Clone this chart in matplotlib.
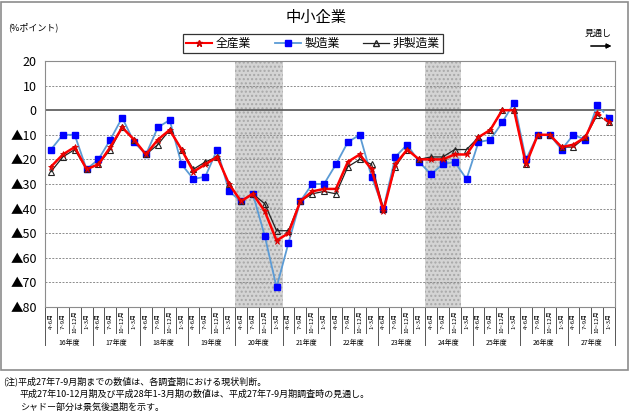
import matplotlib.pyplot as plt
import matplotlib.transforms as mtransforms
from matplotlib.lines import Line2D
from matplotlib.patches import Rectangle
import numpy as np

plt.rcParams['font.family'] = ['Noto Sans CJK JP', 'DejaVu Sans']

years = [f'{y}年度' for y in range(16, 28)]
quarters = ['4~6月', '7~9月', '10~12月', '1~3月']

# 全産業
all_ind = [-23, -18, -15, -24, -22, -15, -7, -12, -18, -12, -8, -16,
           -25, -22, -19, -30, -37, -34, -41, -53, -50, -37, -33, -32,
           -32, -21, -18, -24, -41, -22, -16, -20, -20, -20, -18, -18,
           -11, -8, 0, 0, -22, -10, -10, -15, -14, -11, -1, -5]
# 製造業
mfg = [-16, -10, -10, -24, -20, -12, -3, -13, -18, -7, -4, -22,
       -28, -27, -16, -33, -37, -34, -51, -72, -54, -37, -30, -30,
       -22, -13, -10, -27, -40, -19, -14, -21, -26, -22, -21, -28,
       -13, -12, -5, 3, -20, -10, -10, -16, -10, -12, 2, -3]
# 非製造業
nonmfg = [-25, -19, -16, -24, -22, -16, -7, -12, -18, -14, -8, -16,
          -24, -21, -19, -30, -37, -34, -38, -49, -49, -37, -34, -33,
          -34, -23, -20, -22, -40, -23, -16, -20, -19, -19, -16, -16,
          -11, -8, 0, 0, -22, -10, -10, -15, -15, -11, -2, -5]

# recession shading (quarter index start, end)
shades = [(16, 20), (32, 35)]

yticks = [20, 10, 0, -10, -20, -30, -40, -50, -60, -70, -80]
ylabels = ['20', '10', '0'] + [f'▲{abs(v)}' for v in yticks[3:]]

fig = plt.figure(figsize=(6.3, 4.13), dpi=100)
ax = fig.add_axes([45 / 630, 1 - 307 / 413, 570 / 630, 246 / 413])

x = np.arange(len(all_ind))
n = len(x)

for s, e in shades:
    ax.axvspan(s - 0.5, e - 0.5, facecolor='#d4d4d4', edgecolor='#a8a8a8',
               hatch='....', linewidth=0, zorder=0)

for v in yticks:
    if v == 0:
        ax.axhline(0, color='#555555', lw=1.2, zorder=1)
    else:
        ax.axhline(v, color='#8c8c8c', lw=0.7, ls=(0, (2, 1.5)), zorder=1)


def draw(vals, color, lw, z, **mk):
    ax.plot(x[:-1], vals[:-1], color=color, lw=lw, zorder=z)
    ax.plot(x[-2:], vals[-2:], color=color, lw=lw, ls=(0, (2, 1.5)), zorder=z)
    ax.plot(x, vals, ls='none', zorder=z + 0.5, **mk)


draw(mfg, '#5b9bd5', 1.3, 2, marker='s', ms=4, mfc='#0000ff', mec='#0000ff')
draw(nonmfg, '#222222', 0.9, 3, marker='^', ms=5, mfc='none', mec='#222222', mew=0.8)
draw(all_ind, '#ff0000', 1.8, 4, marker='*', ms=5, mfc='#ff0000', mec='#cc0000', mew=0.5)

ax.set_xlim(-0.5, n - 0.5)
ax.set_ylim(-80, 20)
ax.set_yticks(yticks)
ax.set_yticklabels(ylabels, fontsize=9)
ax.tick_params(axis='y', length=0, pad=6)
ax.set_xticks([])
for sp in ax.spines.values():
    sp.set_color('#8c8c8c')
    sp.set_linewidth(0.8)

# custom category axis
trans = mtransforms.blended_transform_factory(ax.transData, ax.transAxes)
for i in range(n + 1):
    b = i - 0.5
    length = -0.155 if i % 4 == 0 else -0.105
    ax.plot([b, b], [0, length], transform=trans, color='#555555', lw=0.7,
            clip_on=False)
for i in range(n):
    ax.text(i, -0.058, quarters[i % 4], transform=trans, rotation=90,
            ha='center', va='center', fontsize=4.3)
for k, yl in enumerate(years):
    ax.text(4 * k + 1.5, -0.148, yl, transform=trans, ha='center',
            va='center', fontsize=5)

handles = [
    Line2D([], [], color='#ff0000', lw=1.5, marker='*', ms=5, mfc='#ff0000', mec='#cc0000'),
    Line2D([], [], color='#5b9bd5', lw=1.3, marker='s', ms=4, mfc='#0000ff', mec='#0000ff'),
    Line2D([], [], color='#222222', lw=0.9, marker='^', ms=4.5, mfc='none', mec='#222222'),
]
leg = fig.legend(handles, ['全産業', '製造業', '非製造業'], loc='center',
                 bbox_to_anchor=(313 / 630, 1 - 43.5 / 413), ncol=3,
                 fontsize=8.5, frameon=True, fancybox=False, edgecolor='black',
                 handlelength=2.2, columnspacing=2.0, borderpad=0.25,
                 handletextpad=0.3)
leg.get_frame().set_linewidth(0.9)

fig.text(316 / 630, 1 - 17 / 413, '中小企業', ha='center', va='center', fontsize=11)
fig.text(8 / 630, 1 - 27 / 413, '(%ポイント)', ha='left', va='center', fontsize=6.5)
fig.text(598 / 630, 1 - 33 / 413, '見通し', ha='center', va='center', fontsize=6.5)
fig.add_artist(plt.annotate('', xy=(614 / 630, 1 - 46 / 413), xycoords='figure fraction',
                            xytext=(588 / 630, 1 - 46 / 413), textcoords='figure fraction',
                            arrowprops=dict(arrowstyle='-|>', color='black', lw=0.8,
                                            mutation_scale=7)))

fig.patches.append(Rectangle((1 / 630, 1 - 370 / 413), 627 / 630, 368 / 413,
                             transform=fig.transFigure, fill=False,
                             edgecolor='#8c8c8c', lw=1.2))

notes = ['(注)平成27年7-9月期までの数値は、各調査期における現状判断。',
         '平成27年10-12月期及び平成28年1-3月期の数値は、平成27年7-9月期調査時の見通し。',
         'シャドー部分は景気後退期を示す。']
fig.text(3 / 630, 1 - 381 / 413, notes[0], ha='left', va='center', fontsize=6.5)
fig.text(20 / 630, 1 - 394 / 413, notes[1], ha='left', va='center', fontsize=6.5)
fig.text(20 / 630, 1 - 407 / 413, notes[2], ha='left', va='center', fontsize=6.5)

fig.savefig('out.png', dpi=100)
